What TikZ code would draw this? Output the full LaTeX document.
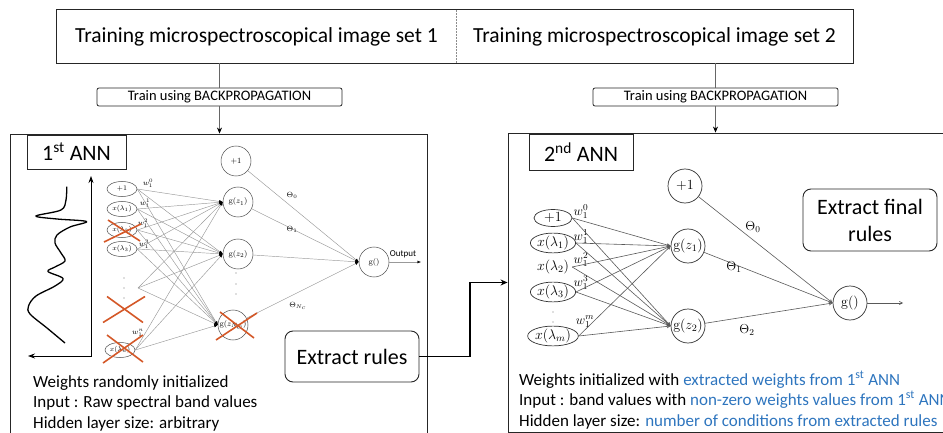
\RequirePackage{fix-cm}
\documentclass[tikz,border=0pt]{standalone}
\usepackage{fontspec}
\newfontfamily\calib{Carlito}
\usetikzlibrary{shapes.geometric,arrows.meta}
\definecolor{xred}{RGB}{212,88,40}
\definecolor{tblue}{RGB}{46,117,190}
\begin{document}
\begin{tikzpicture}[x=1pt,y=-1pt,
  box/.style={draw=black!85, line width=0.9pt},
  ctext/.style={font=\calib\fontsize{21.5}{24}\selectfont},
  trainbox/.style={draw=black!85, line width=0.8pt, rounded corners=2pt, minimum width=245, minimum height=18, inner sep=0, font=\calib\fontsize{14.5}{16}\selectfont},
  feed/.style={draw=black!60, line width=0.6pt},
  feedarrow/.style={feed, -{Stealth[length=6pt,width=5pt,color=black]}},
  labbox/.style={draw=black!85, line width=0.9pt, inner sep=0, font=\calib\fontsize{22}{26}\selectfont},
  rulebox/.style={draw=black!85, line width=0.9pt, rounded corners=8pt, inner sep=0, align=center, font=\calib\fontsize{22}{27}\selectfont},
  btext/.style={anchor=base west, inner sep=0, font=\calib\fontsize{17}{20}\selectfont},
  in1/.style={ellipse, draw=black!70, line width=0.5pt, minimum width=30, minimum height=15, inner sep=0, font=\fontsize{7}{8}\selectfont},
  hid1/.style={circle, draw=black!70, line width=0.5pt, minimum size=30, inner sep=0, font=\fontsize{8}{9}\selectfont},
  small1/.style={inner sep=0, font=\fontsize{7.5}{8}\selectfont},
  c1/.style={draw=black!40, line width=0.45pt, -{Latex[length=3.5pt,width=3pt,color=black]}},
  in2/.style={ellipse, draw=black!80, line width=0.7pt, minimum width=38, minimum height=17, inner sep=0, font=\fontsize{14}{16}\selectfont},
  hid2/.style={circle, draw=black!80, line width=0.7pt, minimum size=34, inner sep=0, font=\fontsize{14}{16}\selectfont},
  small2/.style={inner sep=0, font=\fontsize{13}{14}\selectfont},
  c2/.style={draw=black!65, line width=0.6pt, -{Straight Barb[length=3pt,width=3pt]}},
  xcross/.style={draw=xred, line width=1.6pt},
  dotc/.style={fill=black!55}
]
\useasboundingbox (0,0) rectangle (943,433);

% ---------- top box ----------
\node[ctext, minimum width=399, minimum height=53, inner sep=0] (top1) at (256.5,36.5) {Training microspectroscopical image set 1};
\node[ctext, minimum width=397, minimum height=53, inner sep=0] (top2) at (654.5,36.5) {Training microspectroscopical image set 2};
\draw[box] (top1.north west) rectangle (top2.south east);
\draw[black!45, densely dotted, line width=0.5pt] (top1.north east) -- (top1.south east);

% ---------- frames ----------
\node[box, minimum width=417, minimum height=311, inner sep=0] (ann1) at (218.5,289.5) {};
\node[box, minimum width=452, minimum height=299, inner sep=0] (ann2) at (734,282.5) {};

% ---------- train boxes ----------
\node[trainbox] (train1) at (219.5,97) {Train using BACKPROPAGATION};
\node[trainbox] (train2) at (715.5,97) {Train using BACKPROPAGATION};
\draw[feed] (top1.south -| train1.north) -- (train1.north);
\draw[feedarrow] (train1.south) -- (train1.south |- ann1.north);
\draw[feed] (top2.south -| train2.north) -- (train2.north);
\draw[feedarrow] (train2.south) -- (train2.south |- ann2.north);

% ---------- labels ----------
\node[labbox, minimum width=99, minimum height=34] (lab1) at (76.5,152) {1\textsuperscript{st} ANN};
\node[labbox, minimum width=104, minimum height=36] (lab2) at (581,152) {2\textsuperscript{nd} ANN};

\node[rulebox, minimum width=134, minimum height=51] (extract) at (352,356.5) {Extract rules};
\node[rulebox, minimum width=134, minimum height=62] (final) at (870,220) {Extract final\\rules};
\coordinate (bend) at (470,356.5);
\draw[line width=1.4pt, -{Stealth[length=7pt,width=6pt]}] (extract.east) -- (bend) |- (ann2.west);

% ---------- bottom texts ----------
\node[btext] (t1a) at (33,387) {Weights randomly initialized};
\node[btext] (t1b) at (33,407) {Input : Raw spectral band values};
\node[btext] (t1c) at (33,428) {Hidden layer size: arbitrary};
\node[btext] (t2a) at (519,385) {Weights initialized with \textcolor{tblue}{extracted weights from 1\textsuperscript{st} ANN}};
\node[btext] (t2b) at (519,405) {Input : band values with \textcolor{tblue}{non-zero weights values from 1\textsuperscript{st} ANN}};
\node[btext] (t2c) at (519,426) {Hidden layer size: \textcolor{tblue}{number of conditions from extracted rules}};

% ---------- spectrum ----------
\coordinate (ax0) at (91,356);
\coordinate (axT) at (91,176);
\coordinate (axL) at (28,356);
\draw[line width=0.8pt, {Stealth[length=7pt,width=5pt]}-{Stealth[length=7pt,width=5pt]}] (axT) -- (ax0) -- (axL);
\draw[line width=1.3pt] plot[smooth, tension=0.55] coordinates {(66.7,186.7) (66,200) (61,210) (36,216) (57,219) (86.5,221.5) (70,227) (57,235) (55,243) (61,253) (65,261) (55,267) (48,271.5) (63,278.5) (55,286) (36,296) (28.5,306) (30,314) (47,328) (65,343)};

% ---------- 1st ANN network ----------
\node[in1] (in1a) at (122,189) {$+1$};
\node[in1] (in1b) at (122,209) {$x(\lambda_1)$};
\node[in1] (in1c) at (122,230) {$x(\lambda_2)$};
\node[in1] (in1d) at (122,249) {$x(\lambda_3)$};
\node[in1] (in1n) at (120,350) {$x(\lambda_n)$};
\coordinate (fan1) at (138,288);
\fill[dotc] (124,278) circle (0.7) (124,288) circle (0.7) (124,298) circle (0.7);
\node[small1] (w10) at (148,183) {$w_1^0$};
\node[small1] (w11) at (145,203) {$w_1^1$};
\node[small1] (w12) at (143,223) {$w_1^2$};
\node[small1] (w13) at (144,244) {$w_1^3$};
\node[small1] (w1n) at (138,333) {$w_1^n$};

\node[hid1] (h1p) at (236,161) {$+1$};
\node[hid1] (h1a) at (238,202) {$\mathrm{g}(z_1)$};
\node[hid1] (h1b) at (238,254) {$\mathrm{g}(z_2)$};
\node[hid1] (h1c) at (233,325) {$\mathrm{g}(z_{N_C})$};
\fill[dotc] (236,273) circle (0.7) (236,284) circle (0.7) (236,294) circle (0.7);
\node[hid1] (out1) at (374,262) {$\mathrm{g}()$};
\coordinate (o1end) at (421,262);
\node[inner sep=0, font=\calib\fontsize{9}{10}\selectfont] (outlab) at (403,254) {Output};

\foreach \i in {in1a.east,in1b.east,in1c.east,in1d.east,fan1,in1n.east}
  \foreach \h in {h1a,h1b,h1c}
    \draw[c1] (\i) -- (\h.west);
\foreach \h in {h1p,h1a,h1b,h1c}
  \draw[c1] (\h) -- (out1.west);
\draw[c1] (out1.east) -- (o1end);
\node[small1] (th10) at (292,195) {$\Theta_0$};
\node[small1] (th11) at (292,229) {$\Theta_1$};
\node[small1] (th1n) at (298,306) {$\Theta_{N_C}$};

% red crosses
\draw[xcross] ([shift={(-18,12)}]in1c.center) -- ([shift={(19,-6)}]in1c.center);
\draw[xcross] ([shift={(-14,-10)}]in1c.center) -- ([shift={(18,11)}]in1c.center);
\coordinate (xdots) at (124,309.5);
\draw[xcross] ([shift={(-21,13)}]xdots) -- ([shift={(21,-13)}]xdots);
\draw[xcross] ([shift={(-17,-13)}]xdots) -- ([shift={(19,13)}]xdots);
\draw[xcross] ([shift={(-17,13)}]in1n.center) -- ([shift={(23,-15)}]in1n.center);
\draw[xcross] ([shift={(-13,-15)}]in1n.center) -- ([shift={(23,12)}]in1n.center);
\draw[xcross] ([shift={(-17,15)}]h1c.center) -- ([shift={(24,-12)}]h1c.center);
\draw[xcross] ([shift={(-13,-13)}]h1c.center) -- ([shift={(21,13)}]h1c.center);

% ---------- 2nd ANN network ----------
\node[in2] (in2a) at (553,218) {$+1$};
\node[in2] (in2b) at (553,243) {$x(\lambda_1)$};
\node[inner sep=0, font=\fontsize{14}{16}\selectfont, minimum width=38] (in2c) at (553,267) {$x(\lambda_2)$};
\node[in2] (in2d) at (553,292) {$x(\lambda_3)$};
\node[in2] (in2m) at (553,336) {$x(\lambda_m)$};
\fill[dotc] (553,312) circle (0.7) (553,322) circle (0.7);
\node[small2] (w20) at (581,212) {$w_1^0$};
\node[small2] (w21) at (581,237) {$w_1^1$};
\node[small2] (w22) at (581,260) {$w_1^2$};
\node[small2] (w23) at (581,283) {$w_1^3$};
\node[small2] (w2m) at (585,322) {$w_1^m$};

\node[hid2] (h2p) at (685,186) {$+1$};
\node[hid2] (h2a) at (688,246) {$\mathrm{g}(z_1)$};
\node[hid2] (h2b) at (688,326) {$\mathrm{g}(z_2)$};
\node[hid2] (out2) at (850,303) {$\mathrm{g}()$};
\coordinate (o2end) at (903,303);

\foreach \i in {in2a,in2b,in2c,in2d,in2m}
  \foreach \h in {h2a,h2b}
    \draw[c2] (\i.east) -- (\h.west);
\foreach \h in {h2p,h2a,h2b}
  \draw[c2] (\h) -- (out2.west);
\draw[c2] (out2.east) -- (o2end);
\node[small2] (th20) at (753,227) {$\Theta_0$};
\node[small2] (th21) at (734,267) {$\Theta_1$};
\node[small2] (th22) at (747,330) {$\Theta_2$};
\end{tikzpicture}
\end{document}
